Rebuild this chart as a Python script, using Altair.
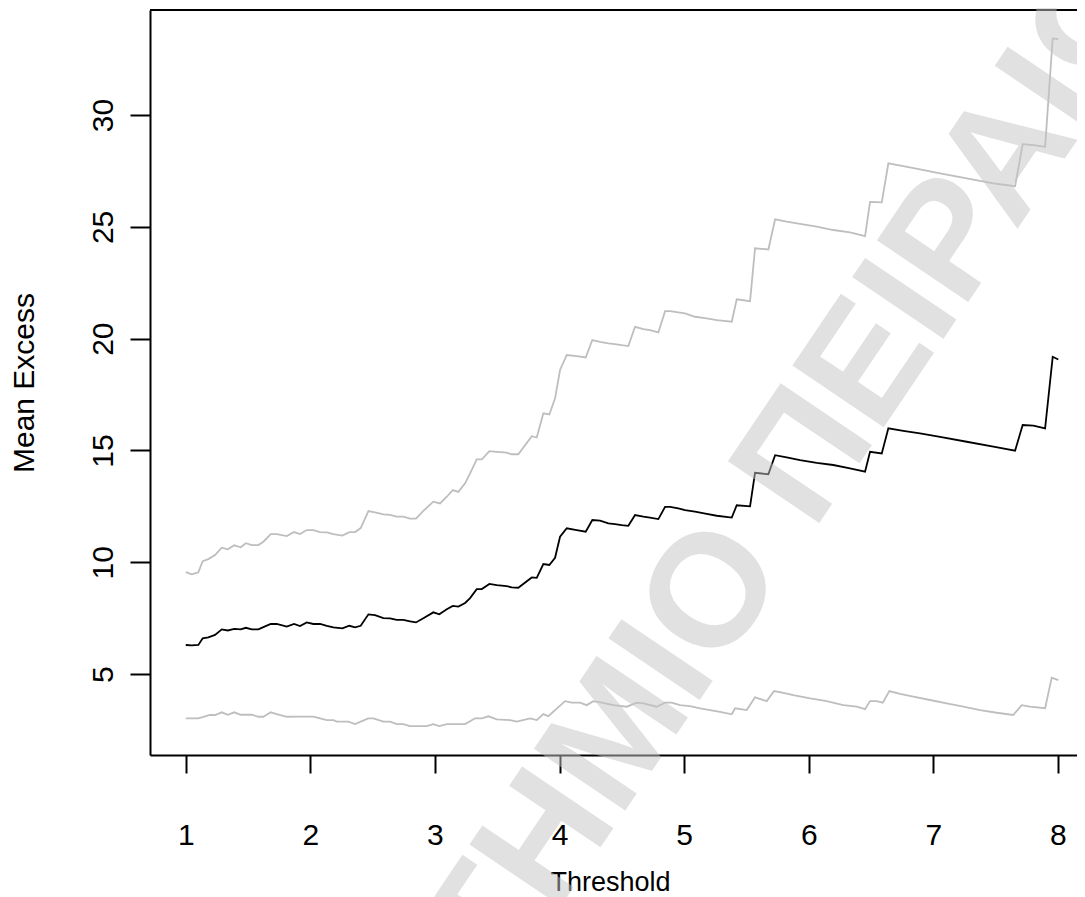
import altair as alt
import pandas as pd

# ---- data ----
upper_x = [1.000, 1.048, 1.101, 1.136, 1.181, 1.235, 1.289, 1.337, 1.390, 1.441, 1.482, 1.530, 1.583, 1.623,
           1.682, 1.730, 1.811, 1.869, 1.917, 1.971, 2.024, 2.078, 2.132, 2.185, 2.257, 2.313, 2.359, 2.404,
           2.466, 2.519, 2.586, 2.640, 2.693, 2.746, 2.800, 2.848, 2.907, 2.987, 3.041, 3.095, 3.143, 3.188,
           3.242, 3.282, 3.335, 3.376, 3.437, 3.496, 3.576, 3.616, 3.669, 3.777, 3.817, 3.870, 3.918, 3.964,
           4.004, 4.058, 4.138, 4.210, 4.263, 4.325, 4.392, 4.445, 4.499, 4.552, 4.606, 4.673, 4.726, 4.793,
           4.847, 4.887, 4.953, 5.007, 5.087, 5.181, 5.262, 5.382, 5.422, 5.529, 5.569, 5.676, 5.730, 5.823,
           5.930, 6.064, 6.197, 6.331, 6.452, 6.492, 6.586, 6.639, 6.759, 6.893, 7.054, 7.268, 7.482, 7.656,
           7.717, 7.803, 7.897, 7.958, 8.003]
upper_y = [9.56, 9.46, 9.55, 10.05, 10.14, 10.32, 10.65, 10.58, 10.76, 10.67, 10.85, 10.77, 10.77, 10.92,
           11.26, 11.26, 11.17, 11.35, 11.26, 11.44, 11.44, 11.35, 11.34, 11.26, 11.19, 11.35, 11.35, 11.53,
           12.29, 12.23, 12.14, 12.12, 12.04, 12.04, 11.95, 11.95, 12.30, 12.71, 12.63, 12.93, 13.23, 13.15,
           13.53, 13.98, 14.60, 14.60, 14.97, 14.94, 14.90, 14.83, 14.83, 15.64, 15.58, 16.66, 16.61, 17.33,
           18.60, 19.27, 19.22, 19.16, 19.94, 19.86, 19.79, 19.76, 19.71, 19.67, 20.53, 20.43, 20.38, 20.28,
           21.23, 21.23, 21.18, 21.13, 20.98, 20.91, 20.83, 20.76, 21.76, 21.68, 24.04, 23.99, 25.34, 25.23,
           25.13, 25.01, 24.86, 24.75, 24.59, 26.12, 26.10, 27.84, 27.72, 27.57, 27.39, 27.17, 26.95, 26.82,
           28.70, 28.66, 28.58, 33.43, 33.40]

mean_x = [1.000, 1.048, 1.101, 1.136, 1.181, 1.235, 1.289, 1.337, 1.390, 1.441, 1.482, 1.530, 1.583, 1.623,
          1.682, 1.730, 1.811, 1.869, 1.917, 1.971, 2.024, 2.078, 2.132, 2.185, 2.257, 2.313, 2.359, 2.404,
          2.466, 2.519, 2.586, 2.640, 2.693, 2.746, 2.800, 2.848, 2.907, 2.987, 3.035, 3.095, 3.143, 3.188,
          3.242, 3.282, 3.335, 3.376, 3.437, 3.496, 3.576, 3.616, 3.669, 3.777, 3.817, 3.870, 3.918, 3.964,
          4.004, 4.058, 4.138, 4.210, 4.263, 4.325, 4.392, 4.445, 4.499, 4.552, 4.606, 4.673, 4.726, 4.793,
          4.847, 4.887, 4.953, 5.007, 5.087, 5.181, 5.262, 5.382, 5.422, 5.529, 5.569, 5.676, 5.730, 5.823,
          5.930, 6.064, 6.197, 6.331, 6.452, 6.492, 6.586, 6.639, 6.759, 6.893, 7.054, 7.268, 7.482, 7.656,
          7.717, 7.803, 7.897, 7.958, 8.003]
mean_y = [6.30, 6.28, 6.30, 6.60, 6.64, 6.75, 7.00, 6.95, 7.02, 7.00, 7.07, 7.00, 7.00, 7.10,
          7.24, 7.24, 7.12, 7.24, 7.15, 7.31, 7.24, 7.24, 7.16, 7.09, 7.04, 7.16, 7.09, 7.16,
          7.67, 7.64, 7.50, 7.49, 7.42, 7.42, 7.36, 7.31, 7.50, 7.76, 7.67, 7.90, 8.05, 8.02,
          8.18, 8.40, 8.80, 8.80, 9.03, 8.98, 8.93, 8.88, 8.86, 9.32, 9.30, 9.92, 9.88, 10.20,
          11.14, 11.52, 11.44, 11.37, 11.89, 11.86, 11.74, 11.71, 11.66, 11.63, 12.11, 12.04, 12.00, 11.93,
          12.48, 12.48, 12.41, 12.33, 12.26, 12.16, 12.08, 12.00, 12.55, 12.50, 14.00, 13.94, 14.79, 14.69,
          14.57, 14.45, 14.35, 14.20, 14.05, 14.94, 14.87, 15.99, 15.88, 15.76, 15.61, 15.39, 15.17, 14.99,
          16.14, 16.11, 15.99, 19.19, 19.07]

lower_x = [1.000, 1.101, 1.195, 1.235, 1.289, 1.337, 1.390, 1.441, 1.530, 1.583, 1.623, 1.682, 1.730, 1.811,
           1.917, 2.024, 2.078, 2.132, 2.185, 2.212, 2.305, 2.359, 2.404, 2.466, 2.506, 2.586, 2.640, 2.693,
           2.746, 2.800, 2.934, 2.987, 3.035, 3.095, 3.242, 3.322, 3.376, 3.429, 3.496, 3.603, 3.657, 3.763,
           3.817, 3.870, 3.910, 4.044, 4.098, 4.164, 4.218, 4.271, 4.339, 4.432, 4.539, 4.620, 4.673, 4.780,
           4.847, 4.900, 4.967, 5.047, 5.128, 5.208, 5.288, 5.382, 5.409, 5.502, 5.569, 5.663, 5.722, 5.796,
           5.876, 6.011, 6.144, 6.278, 6.385, 6.452, 6.492, 6.546, 6.594, 6.647, 6.733, 6.840, 6.973, 7.108,
           7.241, 7.375, 7.509, 7.642, 7.709, 7.776, 7.897, 7.950, 8.003]
lower_y = [3.02, 3.02, 3.17, 3.17, 3.29, 3.18, 3.29, 3.18, 3.18, 3.09, 3.09, 3.29, 3.21, 3.09,
           3.10, 3.10, 3.02, 2.94, 2.94, 2.87, 2.87, 2.76, 2.87, 3.02, 3.02, 2.87, 2.87, 2.76,
           2.76, 2.67, 2.67, 2.76, 2.67, 2.76, 2.76, 3.02, 3.02, 3.11, 2.97, 2.94, 2.87, 3.02,
           2.94, 3.21, 3.12, 3.79, 3.72, 3.72, 3.61, 3.79, 3.72, 3.61, 3.54, 3.72, 3.69, 3.54,
           3.72, 3.72, 3.61, 3.57, 3.47, 3.39, 3.31, 3.20, 3.47, 3.39, 3.96, 3.79, 4.24, 4.16,
           4.06, 3.91, 3.79, 3.61, 3.54, 3.43, 3.79, 3.79, 3.72, 4.24, 4.11, 3.99, 3.84, 3.69,
           3.54, 3.39, 3.27, 3.17, 3.61, 3.54, 3.47, 4.84, 4.73]

x_ticks = [1, 2, 3, 4, 5, 6, 7, 8]
y_ticks = [5, 10, 15, 20, 25, 30]
x_domain = [0.713, 8.153]
y_domain = [1.38, 34.70]
series_names = ["upper", "lower", "mean"]
series_colors = ["#bebebe", "#bebebe", "black"]
series_widths = [1.8, 1.8, 2.2]
watermark = "ΠΑΝΕΠΙΣΤΗΜΙΟ ΠΕΙΡΑΙΩΣ"

FONT = "Liberation Sans"

W, H = 927, 745

df = pd.concat([
    pd.DataFrame({"t": upper_x, "v": upper_y, "s": "upper", "o": range(len(upper_x))}),
    pd.DataFrame({"t": lower_x, "v": lower_y, "s": "lower", "o": range(len(lower_x))}),
    pd.DataFrame({"t": mean_x, "v": mean_y, "s": "mean", "o": range(len(mean_x))}),
], ignore_index=True)

xs = alt.Scale(domain=x_domain, nice=False, zero=False)
ys = alt.Scale(domain=y_domain, nice=False, zero=False)

x_axis = alt.Axis(orient="bottom", values=x_ticks, format="d", title="Threshold", grid=False, zindex=0,
                  tickSize=18, tickWidth=2, tickColor="black",
                  domainColor="black", domainWidth=2,
                  labelFont=FONT, labelFontSize=30, labelColor="black",
                  labelPadding=71, labelBaseline="alphabetic", labelAlign="center",
                  labelFlush=False, labelOverlap=False,
                  titleFont=FONT, titleFontSize=27, titleFontWeight="normal", titleColor="black",
                  titleX=460, titleY=135, titleAlign="center", titleBaseline="alphabetic")
y_axis = alt.Axis(orient="left", values=y_ticks, format="d", title="Mean Excess", grid=False, zindex=0,
                  tickSize=20, tickWidth=2, tickColor="black",
                  domainColor="black", domainWidth=2,
                  labelFont=FONT, labelFontSize=30, labelColor="black",
                  labelAngle=270, labelPadding=18, labelBaseline="alphabetic", labelAlign="center",
                  labelFlush=False, labelOverlap=False,
                  titleFont=FONT, titleFontSize=30, titleFontWeight="normal", titleColor="black",
                  titleAngle=270, titleX=-117, titleY=372.5, titleAlign="center", titleBaseline="alphabetic")

lines = alt.Chart(df).mark_line().encode(
    x=alt.X("t:Q", scale=xs, axis=x_axis),
    y=alt.Y("v:Q", scale=ys, axis=y_axis),
    color=alt.Color("s:N", scale=alt.Scale(domain=series_names, range=series_colors), legend=None),
    strokeWidth=alt.StrokeWidth("s:N", scale=alt.Scale(domain=series_names, range=series_widths), legend=None),
    order=alt.Order("o:Q"),
)

one = pd.DataFrame({"k": [0]})
top_border = alt.Chart(one).mark_rule(color="black", strokeWidth=2).encode(
    x=alt.value(0), x2=alt.value(W), y=alt.value(0))

# the reference's right border lies beyond the picture: hide the edge line here
right_cover = alt.Chart(one).mark_rule(color="white", strokeWidth=8).encode(
    x=alt.value(W), y=alt.value(2), y2=alt.value(H - 2))

wm = alt.Chart(pd.DataFrame({"txt": [watermark]})).mark_text(
    font=FONT, fontSize=160, fontWeight="bold", angle=304, align="center", baseline="middle",
    color="#c4c4c4", opacity=0.5).encode(
    text="txt:N", x=alt.value(477), y=alt.value(712))

chart = alt.layer(lines, top_border, right_cover, wm).properties(
    width=W, height=H,
    padding={"left": 142, "top": 2, "right": 0, "bottom": 142},
    autosize=alt.AutoSizeParams(type="none"),
    background="white",
).configure_view(strokeWidth=0, stroke="transparent", strokeOpacity=0)

chart.save("out.html", embed_options={"renderer": "svg", "actions": False})
